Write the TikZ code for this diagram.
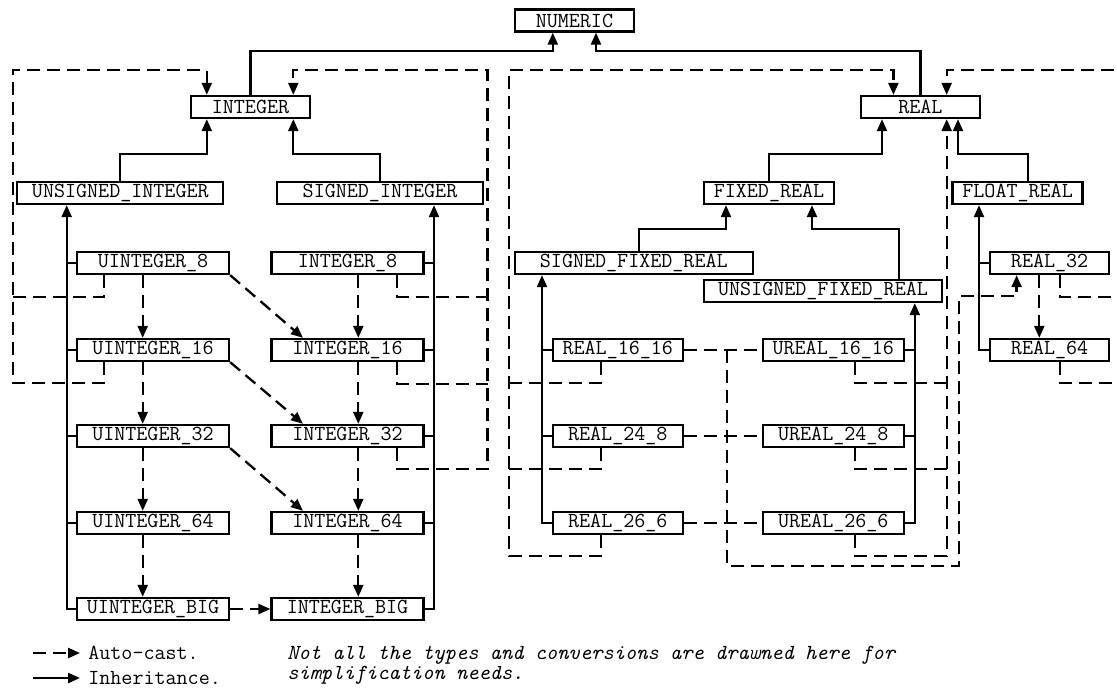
\documentclass[tikz,border=0pt]{standalone}
\usepackage{fontspec}
\usetikzlibrary{arrows.meta, positioning, calc}
\begin{document}
\begin{tikzpicture}[
    x=0.2mm, y=-0.2mm,
    font=\ttfamily\fontsize{12.2}{14}\selectfont,
    typebox/.style={rectangle, draw=black, line width=1.3pt, minimum height=4.4mm, minimum width=#1, inner sep=0pt},
    inh/.style={-{Triangle[length=2.4mm, width=2mm]}, line width=1.3pt},
    rail/.style={line width=1.3pt},
    cast/.style={-{Triangle[length=2.4mm, width=2mm]}, line width=1.3pt, dash pattern=on 2.6mm off 1.4mm},
    castline/.style={line width=1.3pt, dash pattern=on 2.6mm off 1.4mm}
]
\useasboundingbox (0,0) rectangle (1117,688);

\node[typebox=23.8mm] (numeric) at (574.4,20.5) {NUMERIC};
\node[typebox=23.8mm] (integer) at (250.5,107) {INTEGER};
\node[typebox=23.8mm] (real) at (920.4,107) {REAL};
\node[typebox=41.2mm] (uinteger) at (120.3,193) {UNSIGNED\_INTEGER};
\node[typebox=41.2mm] (sinteger) at (380,193) {SIGNED\_INTEGER};
\node[typebox=26mm] (fixedreal) at (769,193) {FIXED\_REAL};
\node[typebox=26mm] (floatreal) at (1017.6,193) {FLOAT\_REAL};
\node[typebox=47.6mm] (sfixed) at (633.8,263) {SIGNED\_FIXED\_REAL};
\node[typebox=47.6mm] (ufixed) at (823,291) {UNSIGNED\_FIXED\_REAL};
\node[typebox=23.8mm] (real32) at (1049.6,263) {REAL\_32};
\node[typebox=23.8mm] (real64) at (1049.6,350) {REAL\_64};
\foreach \n/\y in {8/263,16/350,32/436,64/523,BIG/609} {
  \node[typebox=30.4mm] (ui\n) at (153,\y) {UINTEGER\_\n};
  \node[typebox=30.4mm] (i\n) at (347.5,\y) {INTEGER\_\n};
}
\foreach \n/\t/\y in {1616/16\_16/350,248/24\_8/436,266/26\_6/523} {
  \node[typebox=26mm] (r\n) at (617.8,\y) {REAL\_\t};
  \node[typebox=28.2mm] (ur\n) at (833.3,\y) {UREAL\_\t};
}

% inheritance
\draw[inh] (integer.north) -- ++(0,-44) -| ($(numeric.south)+(-21.6,0)$);
\draw[inh] (real.north) -- ++(0,-44) -| ($(numeric.south)+(21.6,0)$);
\draw[inh] (uinteger.north) -- ++(0,-27) -| ($(integer.south)+(-43.7,0)$);
\draw[inh] (sinteger.north) -- ++(0,-27) -| ($(integer.south)+(42.8,0)$);
\draw[inh] (fixedreal.north) -- ++(0,-27) -| ($(real.south)+(-38.4,0)$);
\draw[inh] ($(floatreal.north)+(10.6,0)$) -- ++(0,-27) -| ($(real.south)+(37.6,0)$);
\draw[inh] ($(sfixed.north)+(5,0)$) -- ++(0,-22) -| ($(fixedreal.south)+(-43,0)$);
\draw[inh] ($(ufixed.north)+(76,0)$) -- ++(0,-50) -| ($(fixedreal.south)+(43,0)$);

\draw[inh] (uiBIG.west) -| ($(uinteger.south)+(-53.6,0)$);
\draw[inh] (iBIG.east) -| ($(sinteger.south)+(54,0)$);
\foreach \n in {8,16,32,64} {
  \draw[rail] (ui\n.west) -- ++(-10.3,0);
  \draw[rail] (i\n.east) -- ++(10.5,0);
}
\draw[inh] (r266.west) -| ($(sfixed.south)+(-91.8,0)$);
\draw[inh] (ur266.east) -| ($(ufixed.south)+(91.8,0)$);
\foreach \n in {1616,248} {
  \draw[rail] (r\n.west) -- ++(-10.8,0);
  \draw[rail] (ur\n.east) -- ++(11,0);
}
\draw[inh] (real64.west) -| ($(floatreal.south)+(-38.6,0)$);
\draw[rail] (real32.west) -- ++(-10.6,0);

% auto-cast
\foreach \a/\b in {8/16,16/32,32/64,64/BIG} {
  \draw[cast] ($(ui\a.south)+(-10.3,0)$) -- ($(ui\b.north)+(-10.3,0)$);
  \draw[cast] ($(i\a.south)+(10.8,0)$) -- ($(i\b.north)+(10.8,0)$);
}
\foreach \a/\b in {8/16,16/32,32/64}
  \draw[cast] (ui\a.south east) -- ($(i\b.north)+(-44.5,0)$);
\draw[cast] (uiBIG.east) -- (iBIG.west);
\draw[cast] ($(real32.south)+(-10.3,0)$) -- ($(real64.north)+(-10.3,0)$);

\draw[cast] ($(ui16.south)+(-49,0)$) -- ++(0,21) -| ++(-91.3,-313) -| ($(integer.north)+(-43.7,0)$);
\draw[castline] ($(ui8.south)+(-49,0)$) -- ++(0,22) -- ++(-91.3,0);

\draw[cast] ($(i32.south)+(49.5,0)$) -- ++(0,21) -| ++(90.5,-399) -| ($(integer.north)+(42.8,0)$);
\foreach \n in {8,16}
  \draw[castline] ($(i\n.south)+(49.5,0)$) -- ++(0,21.5) -- ++(90.5,0);

\draw[cast] ($(r266.south)+(-16.6,0)$) -- ++(0,21) -| ++(-92,-486) -| ($(real.north)+(-27,0)$);
\draw[cast] ($(ur266.south)+(21.7,0)$) -- ++(0,21) -| ($(real.south)+(26.3,0)$);
\foreach \n in {1616,248} {
  \draw[castline] ($(r\n.south)+(-16.6,0)$) -- ++(0,21) -- ++(-92,0);
  \draw[castline] ($(ur\n.south)+(21.7,0)$) -- ++(0,21) -- ++(91.7,0);
}

\foreach \n in {1616,248,266}
  \draw[castline] (r\n.east) -- (ur\n.west);
\draw[cast] ($(r1616.east)+(43,0)$) -- ++(0,216) -| ++(232,-270) -| ($(real32.south)+(-33,0)$);

\draw[cast] ($(real64.south)+(10.7,0)$) -- ++(0,21) -| ++(70,-313) -| ($(real.north)+(26.3,0)$);
\draw[castline] ($(real32.south)+(10.7,0)$) -- ++(0,22) -- ++(70,0);

% legend
\node[anchor=west, inner sep=0pt] (lauto) at (88,653) {Auto-cast.};
\node[anchor=west, inner sep=0pt] (linh) at (88,678) {Inheritance.};
\draw[cast] ($(lauto.west)+(-55,0)$) -- ($(lauto.west)+(-8,0)$);
\draw[inh] ($(linh.west)+(-55,0)$) -- ($(linh.west)+(-8,0)$);
\node[anchor=north west, align=left, inner sep=0pt, font=\ttfamily\itshape\fontsize{12.2}{11.4}\selectfont] (note) at (287,646)
  {Not all the types and conversions are drawned here for\\simplification needs.};
\end{tikzpicture}
\end{document}
